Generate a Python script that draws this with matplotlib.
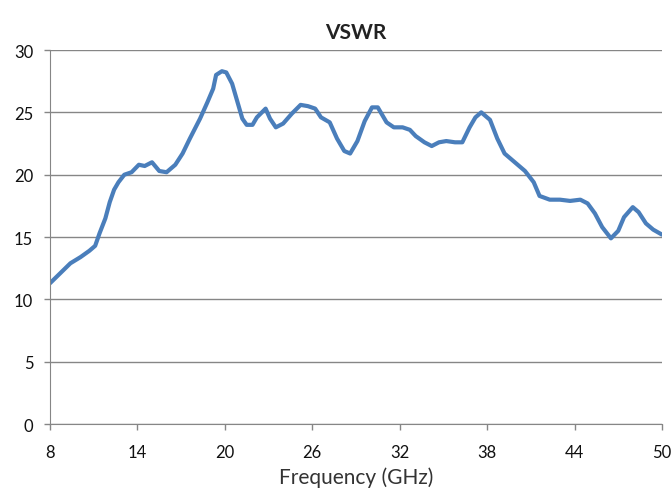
import numpy as np
import matplotlib.pyplot as plt

# valeurs
freq = [8.0, 8.7, 9.4, 10.1, 10.7, 11.1, 11.4, 11.8, 12.1, 12.4, 12.7, 13.1, 13.6, 14.1,
        14.5, 15.0, 15.5, 16.0, 16.6, 17.1, 17.6, 18.3, 18.8, 19.2, 19.4, 19.8,
        20.1, 20.5, 20.8, 21.2, 21.5, 21.9, 22.2, 22.8, 23.1, 23.5, 24.0, 24.6,
        25.2, 25.7, 26.2, 26.6, 27.2, 27.7, 28.2, 28.6, 29.1, 29.6, 30.1, 30.5,
        31.1, 31.6, 32.2, 32.7, 33.1, 33.7, 34.2, 34.7, 35.2, 35.8, 36.3, 36.8,
        37.2, 37.6, 38.2, 38.7, 39.2, 39.9, 40.6, 41.2, 41.6, 42.3, 43.0, 43.7,
        44.4, 44.9, 45.4, 45.9, 46.5, 47.0, 47.4, 48.0, 48.4, 48.9, 49.4, 50.0]
vswr = [11.3, 12.1, 12.9, 13.4, 13.9, 14.3, 15.3, 16.5, 17.8, 18.8, 19.4, 20.0, 20.2, 20.8,
        20.7, 21.0, 20.3, 20.2, 20.8, 21.7, 22.9, 24.5, 25.8, 26.9, 28.0, 28.3,
        28.2, 27.3, 26.1, 24.5, 24.0, 24.0, 24.6, 25.3, 24.5, 23.8, 24.1, 24.9,
        25.6, 25.5, 25.3, 24.6, 24.2, 22.9, 21.9, 21.7, 22.7, 24.3, 25.4, 25.4,
        24.2, 23.8, 23.8, 23.6, 23.1, 22.6, 22.3, 22.6, 22.7, 22.6, 22.6, 23.8,
        24.6, 25.0, 24.4, 22.9, 21.7, 21.0, 20.3, 19.4, 18.3, 18.0, 18.0, 17.9,
        18.0, 17.7, 16.9, 15.8, 14.9, 15.5, 16.6, 17.4, 17.0, 16.1, 15.6, 15.2]
xticks = [8, 14, 20, 26, 32, 38, 44, 50]
yticks = [0, 5, 10, 15, 20, 25, 30]

plt.rcParams['font.family'] = ['Lato', 'DejaVu Sans']

fig = plt.figure(figsize=(6.72, 4.89), dpi=100)
ax = fig.add_axes([0.0744, 0.1305, 0.9106, 0.7652])

ax.plot(freq, vswr, color="#4a7ebb", lw=3.0, solid_joinstyle="round",
        solid_capstyle="round")

ax.set_xlim(8, 50)
ax.set_ylim(0, 30)
ax.set_xticks(xticks)
ax.set_yticks(yticks)
ax.tick_params(labelsize=12, colors="#868686", labelcolor="#111111", length=4, width=1)
ax.tick_params(axis="x", pad=10)
ax.tick_params(axis="y", pad=8)
ax.grid(True, axis="y", color="#868686", lw=1)
ax.set_axisbelow(True)
for s in ["top", "right"]:
    ax.spines[s].set_visible(False)
for s in ["left", "bottom"]:
    ax.spines[s].set_color("#868686")

ax.set_xlabel("Frequency (GHz)", fontsize=15, color="#333333", labelpad=5)
ax.set_title("VSWR", fontsize=15, fontweight="bold", color="#222222", pad=9)

fig.savefig("out.png", dpi=100)
